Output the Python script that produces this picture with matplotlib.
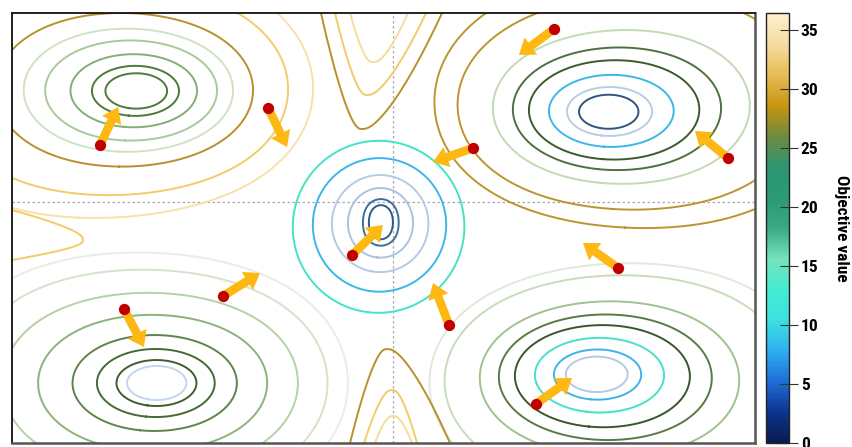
import numpy as np
import matplotlib
matplotlib.use("Agg")
import matplotlib.pyplot as plt
from matplotlib.colors import LinearSegmentedColormap, Normalize
from matplotlib.cm import ScalarMappable
from contourpy import contour_generator

# ---------------------------------------------------------------- data
# basin centres of the objective (x, y)
well_names = ["TL", "TR", "C", "BL", "BR"]
well_x = [-2.061, 1.731, -0.097, -1.900, 1.634]
well_y = [0.894, 0.725, -0.161, -1.457, -1.385]
well_tilt_x = [-0.21, 0.22, -0.08, -0.09, 0.22]
well_tilt_y = [0.05, 0.21, -0.16, 0.0, -0.20]

# iso-lines of every basin: distance from the basin centre along a direction
ring_dir = {"TL": (1, 0), "TR": (-1, 0), "C": (-1, 0), "BL": (0, 1), "BR": (-1, 0)}
ring_dist = {
    "TL": [0.242, 0.338, 0.483, 0.644, 0.773, 0.934, 1.216, 1.417],
    "TR": [0.233, 0.330, 0.475, 0.636, 0.765, 0.926, 1.208, 1.393],
    "C":  [0.097, 0.145, 0.266, 0.395, 0.548, 0.709],
    "BL": [0.137, 0.185, 0.274, 0.386, 0.548, 0.725, 0.910, 1.047],
    "BR": [0.242, 0.338, 0.491, 0.652, 0.781, 0.934, 1.216, 1.337],
}
ring_color = {
    "TL": ["#4e7a3c", "#4e7a3c", "#86ad74", "#a9c99b", "#cfe2c6", "#b8902c", "#f2cc6a", "#f7e1a6"],
    "TR": ["#2d5683", "#b9cde3", "#3bb8ea", "#3b5b2c", "#4f7040", "#c3dab6", "#bc9430", "#bc9430"],
    "C":  ["#2e5c8a", "#3f6f9e", "#a9c3df", "#b5cbe3", "#3db6ea", "#43e3c4"],
    "BL": ["#c2d6ee", "#3e5e2f", "#456a35", "#5e8449", "#8bb37a", "#b3d2a6", "#d2e4ca", "#e6efe2"],
    "BR": ["#b7c9e2", "#3eb2ea", "#45e2c6", "#3b5530", "#5a7a45", "#9fc28f", "#c6dcbb", "#dfeadb"],
}

# ridge lines between basins: apex, and where each line meets the frame
ridge_colors = ["#b8902c", "#f2cc6a", "#f7dc9a"]
top_apex_x = [-0.250, -0.209, -0.161]
top_apex_y = [0.588, 0.862, 1.127]
top_cross_left = [-0.580, -0.467, -0.346]
top_cross_right = [0.395, 0.266, 0.121]
bottom_apex_x = [-0.048, -0.008, 0.000]
bottom_apex_y = [-1.184, -1.514, -1.723]
bottom_cross_left = [-0.346, -0.233, -0.145]
bottom_cross_right = [0.459, 0.193, 0.153]
left_apex_x = [-2.496]
left_apex_y = [-0.306]
left_cross_low = [-0.467]
left_cross_high = [-0.064]
left_colors = ["#f2cc6a"]

# optimisation steps: start point -> end point
step_x0 = [-2.359, -1.006, 1.296, 2.697, 0.644, -0.330, 1.812, 0.451, 1.151, -2.166, -1.369]
step_y0 = [0.459, 0.757, 1.393, 0.354, 0.435, -0.427, -0.531, -0.990, -1.626, -0.862, -0.757]
step_x1 = [-2.214, -0.853, 1.014, 2.432, 0.322, -0.081, 1.530, 0.322, 1.441, -2.005, -1.071]
step_y1 = [0.765, 0.443, 1.184, 0.572, 0.322, -0.185, -0.330, -0.652, -1.417, -1.167, -0.572]

cbar_ticks = [0, 5, 10, 15, 20, 25, 30, 35]
cbar_max = 36.4
cbar_colors = ["#0a1a4e", "#0c3590", "#1f6fd6", "#2fb0f0", "#3ce0e0", "#45ecd0",
               "#74e4bc", "#3aa884", "#2a9a74", "#2e9670", "#6e8a3e", "#c8960f",
               "#e6bd55", "#f5dca0", "#fdf0cc"]

XLIM = (-3.068, 2.915)
YLIM = (-1.940, 1.522)


# ---------------------------------------------------------------- basins
def basin(k, x, y):
    dx = x - well_x[k]
    dy = y - well_y[k]
    if well_names[k] == "C":
        r2 = dx ** 2 * (1 + 1.4 * np.exp(-(dx ** 2 + dy ** 2) / 0.03)) + dy ** 2
    else:
        r2 = dx ** 2 + 3.06 * dy ** 2 + 0.1 * dx ** 4
    return np.log(r2 + 1e-6) - (well_tilt_x[k] * dx + well_tilt_y[k] * dy)


gx = np.linspace(-4.5, 4.5, 900)
gy = np.linspace(-3.8, 3.4, 720)
GX, GY = np.meshgrid(gx, gy)


def ring_through(k, px, py):
    level = float(basin(k, np.array(px), np.array(py)))
    lines = contour_generator(x=gx, y=gy, z=basin(k, GX, GY), line_type="Separate").lines(level)
    return min(lines, key=lambda ln: np.min((ln[:, 0] - px) ** 2 + (ln[:, 1] - py) ** 2))


def ridge(apex_u, apex_v, cross_a, cross_b, edge, p=1.4, c=0.04):
    """Rounded ridge line: v rises from the apex to `edge` at u = cross_a and u = cross_b."""
    smooth_abs = lambda t: np.sqrt(t ** 2 + c ** 2) - c
    span = cross_b - cross_a
    u = np.linspace(cross_a - 0.2 * span, cross_b + 0.2 * span, 400)
    t = u - apex_u
    ka = (edge - apex_v) / smooth_abs(cross_a - apex_u) ** p
    kb = (edge - apex_v) / smooth_abs(cross_b - apex_u) ** p
    v = apex_v + np.where(t < 0, ka, kb) * smooth_abs(t) ** p
    return u, v


# ---------------------------------------------------------------- figure
fig = plt.figure(figsize=(8.53, 4.47), dpi=100)
ax = fig.add_axes([12 / 853, 4 / 447, 743 / 853, 430 / 447])
ax.set_xlim(*XLIM)
ax.set_ylim(*YLIM)
ax.set_xticks([])
ax.set_yticks([])
for side in ["left", "top"]:
    ax.spines[side].set_color("#111111")
    ax.spines[side].set_linewidth(1.3)
for side in ["right", "bottom"]:
    ax.spines[side].set_color("#555555")
    ax.spines[side].set_linewidth(1.8)

ax.axhline(0, color="#a8a8b0", lw=0.9, ls=(0, (2, 2)), zorder=1)
ax.axvline(0, color="#a8a8b0", lw=0.9, ls=(0, (2, 2)), zorder=1)

for k, name in enumerate(well_names):
    ux, uy = ring_dir[name]
    for d, col in zip(ring_dist[name], ring_color[name]):
        ln = ring_through(k, well_x[k] + ux * d, well_y[k] + uy * d)
        ax.plot(ln[:, 0], ln[:, 1], color=col, lw=1.4, zorder=2)

for i, col in enumerate(ridge_colors):
    u, v = ridge(top_apex_x[i], top_apex_y[i], top_cross_left[i], top_cross_right[i], YLIM[1])
    ax.plot(u, v, color=col, lw=1.4, zorder=2)
    u, v = ridge(bottom_apex_x[i], bottom_apex_y[i], bottom_cross_left[i],
                 bottom_cross_right[i], YLIM[0])
    ax.plot(u, v, color=col, lw=1.4, zorder=2)
for i, col in enumerate(left_colors):
    u, v = ridge(left_apex_y[i], left_apex_x[i], left_cross_low[i], left_cross_high[i],
                 XLIM[0], p=1.3)
    ax.plot(v, u, color=col, lw=1.4, zorder=2)

for x0, y0, x1, y1 in zip(step_x0, step_y0, step_x1, step_y1):
    ax.arrow(x0, y0, x1 - x0, y1 - y0, width=0.07, head_width=0.17, head_length=0.12,
             length_includes_head=True, color="#fdb813", lw=0, zorder=4)
ax.scatter(step_x0, step_y0, s=66, color="#c00000", zorder=5, linewidths=0)

# ---------------------------------------------------------------- colour bar
cmap = LinearSegmentedColormap.from_list("objective", cbar_colors)
cax = fig.add_axes([766 / 853, 4 / 447, 23 / 853, 430 / 447])
sm = ScalarMappable(norm=Normalize(0, cbar_max), cmap=cmap)
cb = fig.colorbar(sm, cax=cax, ticks=cbar_ticks)
cb.outline.set_linewidth(1.0)
cb.outline.set_edgecolor("#222222")
font = ["Roboto Condensed", "Liberation Sans Narrow", "DejaVu Sans"]
cax.tick_params(direction="inout", length=13, width=0.8, color="#333333", labelsize=12.5, pad=2)
for t in cax.get_yticklabels():
    t.set_family(font)
    t.set_fontweight("bold")
cb.set_label("Objective value", rotation=270, labelpad=22, fontsize=12.5,
             family=font, fontweight="bold")

fig.savefig("out.png", dpi=100)
